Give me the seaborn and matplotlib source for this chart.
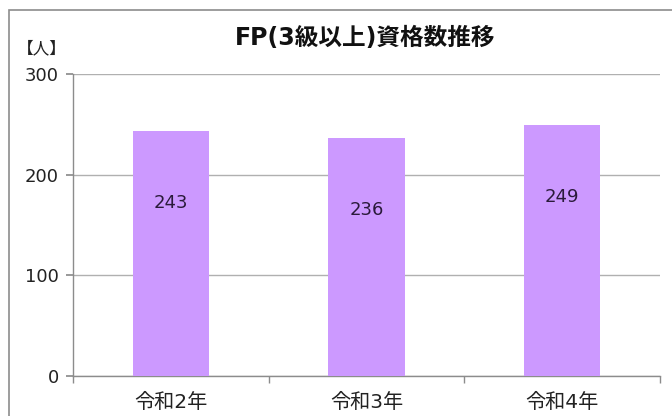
import matplotlib
matplotlib.use("Agg")
import matplotlib.pyplot as plt
import seaborn as sns
import pandas as pd
from matplotlib.patches import Rectangle

CATEGORIES = ["令和2年", "令和3年", "令和4年"]
VALUES = [243, 236, 249]
Y_TICKS = [0, 100, 200, 300]
TITLE = "FP(3級以上)資格数推移"
UNIT = "【人】"

sns.set_theme(style="white")
plt.rcParams["font.family"] = ["DejaVu Sans", "Noto Sans CJK JP"]

df = pd.DataFrame({"year": CATEGORIES, "count": VALUES})

fig = plt.figure(figsize=(6.72, 4.16), dpi=100)
ax = fig.add_axes([73 / 672, 40 / 416, 587 / 672, 302 / 416])

sns.barplot(data=df, x="year", y="count", color="#CC99FF", saturation=1,
            width=0.39, ax=ax, zorder=3, edgecolor="none", linewidth=0)

ax.set_ylim(0, 300)
ax.set_xlim(-0.5, 2.5)
ax.set_yticks(Y_TICKS)
ax.yaxis.grid(True, color="#B0B0B0", linewidth=1, zorder=0)
ax.set_axisbelow(True)
ax.set_xlabel("")
ax.set_ylabel("")

for side in ["top", "right"]:
    ax.spines[side].set_visible(False)
for side in ["left", "bottom"]:
    ax.spines[side].set_color("#8C8C8C")
    ax.spines[side].set_linewidth(1)

ax.set_xticks([-0.5, 0.5, 1.5, 2.5], minor=True)
ax.tick_params(axis="x", which="major", length=0, labelsize=14.5, pad=12, colors="#222222")
ax.tick_params(axis="x", which="minor", bottom=True, length=5, color="#8C8C8C", direction="out")
ax.tick_params(axis="y", left=True, length=5, color="#8C8C8C", labelsize=13, pad=5,
               colors="#222222")

for i, v in enumerate(VALUES):
    ax.text(i, v - 71, str(v), ha="center", va="center", fontsize=13, color="#2A1A3A",
            zorder=4)

fig.text(365 / 672, 1 - 38 / 416, TITLE, ha="center", va="center", fontsize=17,
         fontweight="bold", color="#111111")
fig.text(42 / 672, 1 - 48 / 416, UNIT, ha="center", va="center", fontsize=12,
         color="#222222")

# outer frame: only top and left edges fall inside the image
fig.patches.append(Rectangle((9 / 672, -10 / 416), 700 / 672, 416 / 416,
                             transform=fig.transFigure, fill=False,
                             edgecolor="#8C8C8C", linewidth=1.2))

fig.savefig("out.png", dpi=100)
